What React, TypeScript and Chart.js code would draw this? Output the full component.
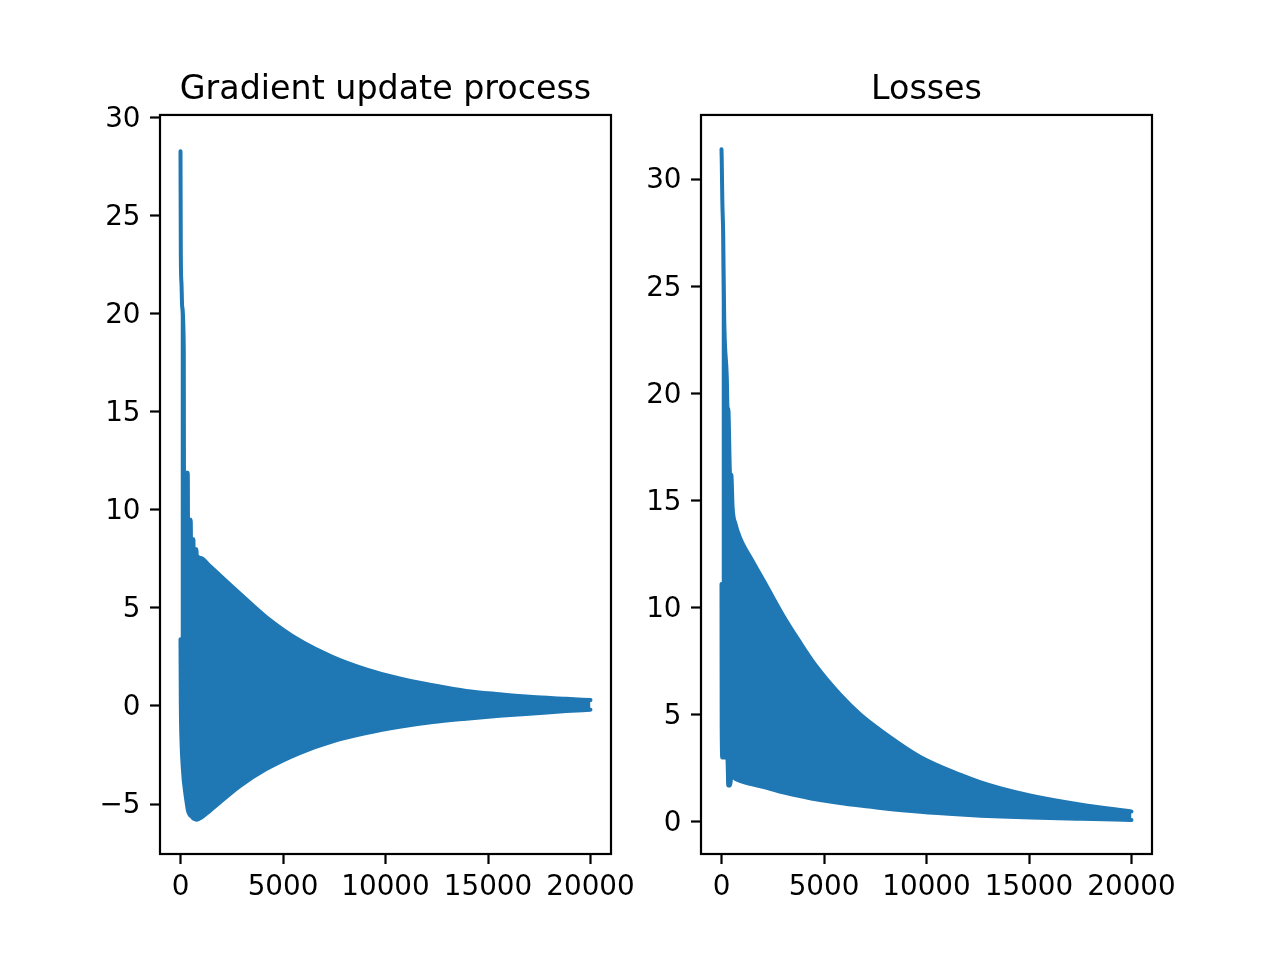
import { useEffect, useRef } from "react";
import { Chart, registerables } from "chart.js";

Chart.register(...registerables);

const BLUE = "#1f77b4";

// Gradient update process: top and bottom edge of the oscillating band
const gradSteps = [0, 15, 50, 80, 160, 170, 356, 366, 500, 510, 630, 640, 780, 790, 1000, 1420, 2880, 4180, 5805, 7430, 9057, 10683, 12308, 13936, 15561, 17186, 18815, 19999];
const gradHigh = [28.3, 23.1, 21.5, 20.4, 18.2, 11.9, 11.9, 9.5, 9.5, 8.5, 8.5, 8.0, 8.0, 7.7, 7.55, 7.15, 5.75, 4.54, 3.35, 2.5, 1.87, 1.4, 1.06, 0.77, 0.6, 0.46, 0.37, 0.3];
const gradLow = [3.4, 0.2, -1.8, -2.6, -3.8, -3.9, -5.3, -5.35, -5.6, -5.6, -5.75, -5.75, -5.8, -5.8, -5.7, -5.36, -4.1, -3.22, -2.4, -1.8, -1.38, -1.06, -0.82, -0.65, -0.5, -0.38, -0.26, -0.19];

// Losses: top and bottom edge of the band
const lossSteps = [0, 10, 40, 83, 132, 260, 294, 330, 420, 480, 540, 686, 931, 1500, 2210, 3000, 3820, 4600, 5780, 6760, 7750, 9700, 11670, 12650, 13630, 15100, 17550, 19999];
const lossHigh = [31.4, 31.0, 29.0, 27.4, 23.5, 20.7, 19.3, 19.3, 16.2, 16.2, 14.7, 13.9, 13.2, 12.2, 11.0, 9.65, 8.4, 7.3, 5.95, 5.02, 4.28, 3.03, 2.19, 1.84, 1.56, 1.22, 0.8, 0.49];
const lossLow = [11.1, 4.4, 3.0, 3.0, 3.0, 3.0, 2.9, 1.7, 1.7, 2.1, 2.1, 2.0, 1.9, 1.75, 1.59, 1.38, 1.2, 1.05, 0.88, 0.76, 0.65, 0.47, 0.34, 0.29, 0.25, 0.2, 0.14, 0.09];

const xTicks = [0, 5000, 10000, 15000, 20000];
const gradYTicks = [-5, 0, 5, 10, 15, 20, 25, 30];
const lossYTicks = [0, 5, 10, 15, 20, 25, 30];

const FONT = "DejaVu Sans";

// matplotlib style labels: no thousands separator, real minus sign
const tickText = (value: number | string) => String(value).replace("-", "\u2212");

const framePlugin = {
  id: "frame",
  afterDatasetsDraw(chart: Chart) {
    const { ctx, chartArea: a } = chart;
    ctx.save();
    ctx.strokeStyle = "#000";
    ctx.lineWidth = 2.2;
    ctx.strokeRect(a.left, a.top, a.right - a.left, a.bottom - a.top);
    ctx.restore();
  },
};

interface PanelProps {
  title: string;
  steps: number[];
  high: number[];
  low: number[];
  yMin: number;
  yMax: number;
  yTicks: number[];
  axisWidth: number;
  padRight: number;
}

function Panel({ title, steps, high, low, yMin, yMax, yTicks, axisWidth, padRight }: PanelProps) {
  const canvasRef = useRef<HTMLCanvasElement>(null);

  useEffect(() => {
    if (!canvasRef.current) return;

    const tickGrid = {
      display: true,
      drawOnChartArea: false,
      drawTicks: true,
      tickLength: 10,
      tickWidth: 2.2,
      tickColor: "#000",
    };

    const edge = {
      borderColor: BLUE,
      backgroundColor: BLUE,
      borderWidth: 4,
      pointRadius: 0,
      cubicInterpolationMode: "monotone" as const,
      borderJoinStyle: "round" as const,
      borderCapStyle: "round" as const,
    };

    const chart = new Chart(canvasRef.current, {
      type: "line",
      data: {
        datasets: [
          { ...edge, data: steps.map((x, i) => ({ x, y: high[i] })), fill: false },
          { ...edge, data: steps.map((x, i) => ({ x, y: low[i] })), fill: "-1" },
        ],
      },
      options: {
        animation: false,
        responsive: true,
        maintainAspectRatio: false,
        events: [],
        layout: { padding: { left: 0, right: padRight, top: 0, bottom: 0 } },
        plugins: {
          legend: { display: false },
          tooltip: { enabled: false },
          title: {
            display: true,
            text: title,
            color: "#000",
            fullSize: false,
            font: { family: FONT, size: 33.3, weight: "normal" },
            padding: { top: 70, bottom: 5 },
          },
        },
        scales: {
          x: {
            type: "linear",
            min: -1000,
            max: 21000,
            border: { display: false },
            grid: tickGrid,
            afterBuildTicks: (scale) => {
              scale.ticks = xTicks.map((value) => ({ value }));
            },
            afterFit: (scale) => {
              scale.height = 106;
              scale.paddingLeft = 0;
              scale.paddingRight = 0;
            },
            ticks: {
              color: "#000",
              padding: 7,
              maxRotation: 0,
              autoSkip: false,
              font: { family: FONT, size: 27.8 },
              callback: (value) => tickText(value),
            },
          },
          y: {
            type: "linear",
            min: yMin,
            max: yMax,
            border: { display: false },
            grid: tickGrid,
            afterBuildTicks: (scale) => {
              scale.ticks = yTicks.map((value) => ({ value }));
            },
            afterFit: (scale) => {
              scale.width = axisWidth;
              scale.paddingTop = 0;
              scale.paddingBottom = 0;
            },
            ticks: {
              color: "#000",
              padding: 9.5,
              labelOffset: 2,
              font: { family: FONT, size: 27.8 },
              callback: (value) => tickText(value),
            },
          },
        },
      },
      plugins: [framePlugin],
    });

    return () => chart.destroy();
  }, [title, steps, high, low, yMin, yMax, yTicks, axisWidth, padRight]);

  return (
    <div style={{ position: "relative", width: 640, height: 960 }}>
      <canvas ref={canvasRef}></canvas>
    </div>
  );
}

export default function App() {
  return (
    <div
      style={{
        position: "absolute",
        left: 0,
        top: 0,
        width: 1280,
        height: 960,
        background: "#fff",
        display: "flex",
      }}
    >
      <Panel
        title="Gradient update process"
        steps={gradSteps}
        high={gradHigh}
        low={gradLow}
        yMin={-7.55}
        yMax={30.15}
        yTicks={gradYTicks}
        axisWidth={160}
        padRight={29}
      />
      <Panel
        title="Losses"
        steps={lossSteps}
        high={lossHigh}
        low={lossLow}
        yMin={-1.5}
        yMax={33}
        yTicks={lossYTicks}
        axisWidth={61}
        padRight={128}
      />
    </div>
  );
}
